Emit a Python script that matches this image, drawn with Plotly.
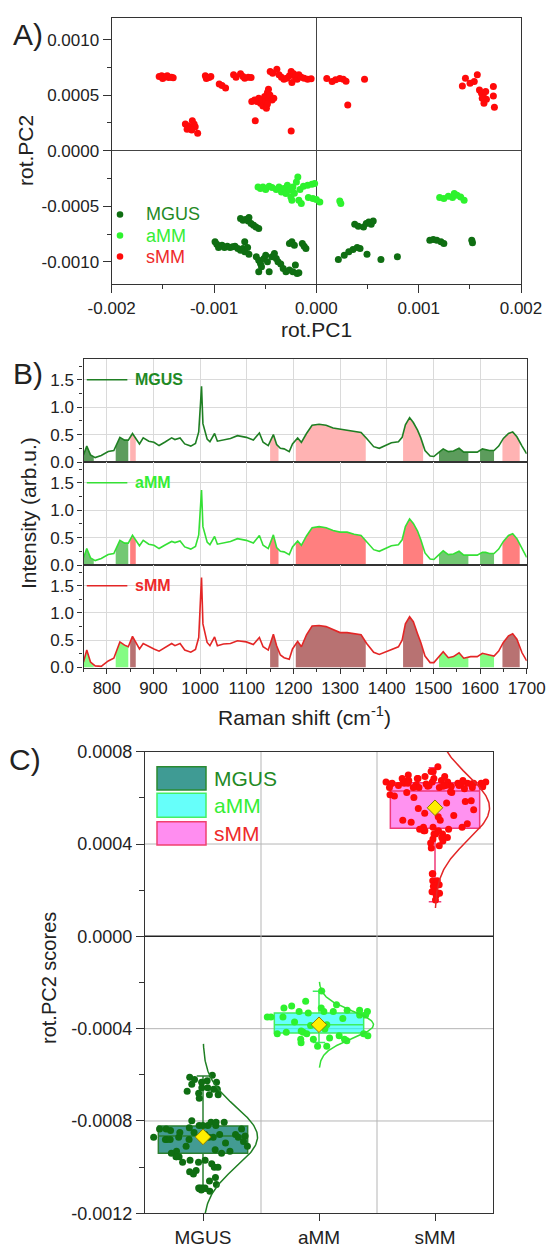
import numpy as np
import plotly.graph_objects as go

W, H = 547, 1250
FONT = "Liberation Sans, Arial, sans-serif"


def px(x):
    return x / W


def py(y):
    return 1 - y / H


# ---------------- Panel A data (rot.PC1, rot.PC2) ----------------
mgus_pc1 = [-7.41e-4, -7.17e-4, -6.93e-4, -6.66e-4, -6.38e-4, -6.14e-4, -5.90e-4, -5.63e-4, -6.59e-4,
            -9.90e-4, -9.73e-4, -9.45e-4, -9.22e-4, -8.98e-4, -8.70e-4, -8.43e-4, -8.19e-4, -7.95e-4,
            -7.68e-4, -7.41e-4, -7.17e-4, -7.00e-4, -6.72e-4, -6.59e-4, -9.56e-4, -7.00e-4,
            -5.87e-4, -5.63e-4, -5.46e-4, -5.36e-4, -5.12e-4, -4.95e-4, -4.78e-4, -4.61e-4, -4.33e-4,
            -4.10e-4, -3.92e-4, -3.75e-4, -5.63e-4,
            -3.48e-4, -3.24e-4, -2.97e-4, -2.63e-4, -2.29e-4, -2.05e-4, -1.88e-4, -1.71e-4,
            -2.63e-4, -2.39e-4, -2.15e-4, -1.37e-4, -1.19e-4, -1.02e-4,
            3.75e-4, 4.10e-4, 4.61e-4, 4.88e-4, 5.12e-4, 5.36e-4, 5.56e-4,
            2.15e-4, 2.73e-4, 3.17e-4, 3.58e-4, 3.99e-4, 4.27e-4, 4.95e-4, 6.31e-4, 7.92e-4,
            1.109e-3, 1.143e-3, 1.177e-3, 1.218e-3, 1.246e-3, 1.519e-3, 1.526e-3]
mgus_pc2 = [-6.11e-4, -6.26e-4, -6.20e-4, -6.32e-4, -6.56e-4, -6.71e-4, -6.86e-4, -7.01e-4, -6.02e-4,
            -8.20e-4, -8.41e-4, -8.59e-4, -8.50e-4, -8.71e-4, -8.59e-4, -8.71e-4, -8.65e-4, -8.59e-4,
            -8.80e-4, -8.95e-4, -8.80e-4, -9.10e-4, -8.71e-4, -9.31e-4, -8.71e-4, -8.20e-4,
            -9.55e-4, -9.85e-4, -1.015e-3, -1.045e-3, -9.70e-4, -9.40e-4, -1.000e-3, -1.090e-3, -9.55e-4,
            -9.25e-4, -9.70e-4, -1.000e-3, -1.090e-3,
            -1.020e-3, -1.060e-3, -1.090e-3, -1.075e-3, -1.090e-3, -1.030e-3, -1.105e-3, -1.099e-3,
            -8.35e-4, -8.20e-4, -8.50e-4, -8.35e-4, -8.59e-4, -8.80e-4,
            -6.62e-4, -6.80e-4, -6.86e-4, -6.56e-4, -6.41e-4, -6.62e-4, -6.32e-4,
            -9.79e-4, -9.40e-4, -9.10e-4, -8.89e-4, -8.71e-4, -8.80e-4, -9.31e-4, -9.79e-4, -9.55e-4,
            -8.05e-4, -7.99e-4, -8.05e-4, -8.20e-4, -8.35e-4, -8.05e-4, -8.29e-4]

amm_pc1 = [-5.70e-4, -5.46e-4, -5.22e-4, -4.95e-4, -4.61e-4, -4.33e-4,
           -3.92e-4, -3.65e-4, -3.41e-4, -3.17e-4, -2.97e-4, -2.83e-4, -2.63e-4, -2.49e-4, -2.29e-4,
           -2.15e-4, -1.95e-4, -1.81e-4, -1.71e-4, -1.60e-4, -1.47e-4, -2.39e-4, -1.26e-4, -0.85e-4,
           -0.44e-4, -0.17e-4, -0.78e-4, -0.34e-4, 0.0, 0.34e-4, 2.29e-4, 2.39e-4,
           1.205e-3, 1.246e-3, 1.290e-3, 1.331e-3, 1.375e-3, 1.410e-3, 1.444e-3, 1.348e-3]
amm_pc2 = [-3.26e-4, -3.41e-4, -3.26e-4, -3.50e-4, -3.20e-4, -3.32e-4,
           -3.50e-4, -3.26e-4, -3.71e-4, -3.41e-4, -3.86e-4, -3.11e-4, -3.56e-4, -4.16e-4, -3.26e-4,
           -3.83e-4, -2.81e-4, -2.37e-4, -4.46e-4, -3.50e-4, -4.76e-4, -4.46e-4, -3.20e-4, -3.11e-4,
           -3.02e-4, -2.96e-4, -4.22e-4, -4.31e-4, -4.40e-4, -4.61e-4, -4.52e-4, -4.76e-4,
           -4.22e-4, -4.31e-4, -4.10e-4, -4.22e-4, -4.01e-4, -4.16e-4, -4.46e-4, -3.86e-4]

smm_pc1 = [-1.536e-3, -1.512e-3, -1.491e-3, -1.468e-3, -1.444e-3, -1.416e-3, -1.399e-3, -1.502e-3, -1.457e-3,
           -1.085e-3, -1.068e-3, -1.048e-3, -1.031e-3, -1.075e-3,
           -9.49e-4, -9.22e-4, -8.87e-4,
           -8.09e-4, -7.85e-4, -7.41e-4, -7.17e-4, -7.00e-4, -6.66e-4, -6.38e-4,
           -4.51e-4, -4.27e-4, -3.86e-4, -3.65e-4, -3.41e-4, -3.17e-4, -2.90e-4, -2.63e-4, -2.46e-4,
           -2.39e-4, -2.22e-4, -2.05e-4, -1.88e-4, -1.71e-4, -1.47e-4, -1.19e-4, -0.85e-4, -0.51e-4,
           1.02e-4, 1.54e-4, 1.88e-4, 2.29e-4, 2.63e-4, 2.90e-4, 4.71e-4, 3.07e-4,
           -6.31e-4, -6.04e-4, -5.80e-4, -5.63e-4, -5.46e-4, -5.29e-4, -5.22e-4, -5.05e-4, -4.95e-4,
           -4.88e-4, -4.78e-4, -4.68e-4, -4.61e-4, -4.54e-4, -4.33e-4, -4.16e-4, -4.78e-4,
           -5.97e-4, -2.46e-4,
           -1.280e-3, -1.256e-3, -1.235e-3, -1.212e-3, -1.195e-3, -1.184e-3, -1.218e-3, -1.160e-3, -1.263e-3,
           1.427e-3, 1.457e-3, 1.502e-3, 1.543e-3, 1.573e-3, 1.594e-3, 1.614e-3, 1.631e-3, 1.638e-3,
           1.655e-3, 1.662e-3, 1.730e-3, 1.730e-3, 1.740e-3, 1.621e-3]
smm_pc2 = [6.69e-4, 6.75e-4, 6.63e-4, 6.69e-4, 6.60e-4, 6.63e-4, 6.57e-4, 6.50e-4, 6.75e-4,
           6.75e-4, 6.63e-4, 6.60e-4, 6.69e-4, 6.50e-4,
           6.02e-4, 5.87e-4, 5.66e-4,
           6.84e-4, 6.63e-4, 6.93e-4, 6.69e-4, 6.54e-4, 6.63e-4, 6.60e-4,
           7.14e-4, 6.99e-4, 7.35e-4, 6.84e-4, 6.63e-4, 6.45e-4, 6.54e-4, 6.75e-4, 7.14e-4,
           6.14e-4, 6.93e-4, 6.63e-4, 6.45e-4, 6.84e-4, 6.63e-4, 6.54e-4, 6.45e-4, 6.48e-4,
           6.50e-4, 6.23e-4, 6.39e-4, 6.50e-4, 6.45e-4, 6.27e-4, 6.45e-4, 4.13e-4,
           4.43e-4, 4.58e-4, 4.43e-4, 4.73e-4, 4.28e-4, 4.58e-4, 4.04e-4, 4.88e-4, 4.43e-4,
           3.83e-4, 5.24e-4, 5.54e-4, 4.64e-4, 5.03e-4, 4.58e-4, 4.73e-4, 4.22e-4,
           2.71e-4, 1.78e-4,
           2.41e-4, 2.23e-4, 2.02e-4, 2.71e-4, 2.41e-4, 2.17e-4, 1.87e-4, 1.57e-4, 1.93e-4,
           5.84e-4, 6.54e-4, 6.08e-4, 6.23e-4, 6.84e-4, 5.48e-4, 5.18e-4, 5.03e-4, 4.28e-4,
           5.33e-4, 4.64e-4, 5.78e-4, 4.94e-4, 3.92e-4, 4.73e-4]

# ---------------- Panel B data (mean Raman spectra) ----------------
wavenumber = [750, 757, 765, 775, 788, 803, 815, 828, 838, 846,
              855, 863, 870, 878, 890, 901, 912, 924, 939, 946,
              957, 967, 980, 990, 997, 1001, 1003, 1006, 1010, 1015,
              1021, 1031, 1037, 1050, 1065, 1080, 1099, 1114, 1127, 1135,
              1146, 1157, 1164, 1172, 1180, 1191, 1198, 1209, 1217, 1228,
              1240, 1255, 1270, 1285, 1300, 1315, 1330, 1345, 1357, 1372,
              1384, 1395, 1410, 1425, 1433, 1440, 1449, 1457, 1466, 1473,
              1482, 1493, 1501, 1511, 1521, 1532, 1543, 1555, 1565, 1580,
              1594, 1605, 1612, 1620, 1630, 1640, 1650, 1661, 1670, 1679,
              1690, 1700]
spec_mgus = [0.13, 0.29, 0.13, 0.08, 0.12, 0.19, 0.21, 0.45, 0.40, 0.40,
             0.52, 0.42, 0.33, 0.44, 0.38, 0.36, 0.30, 0.36, 0.44, 0.41,
             0.44, 0.33, 0.29, 0.34, 0.55, 1.10, 1.38, 0.70, 0.58, 0.42,
             0.37, 0.52, 0.38, 0.40, 0.43, 0.48, 0.45, 0.40, 0.53, 0.36,
             0.30, 0.50, 0.32, 0.25, 0.24, 0.19, 0.33, 0.44, 0.36, 0.52,
             0.67, 0.69, 0.67, 0.62, 0.60, 0.59, 0.56, 0.54, 0.43, 0.28,
             0.25, 0.29, 0.35, 0.37, 0.45, 0.68, 0.81, 0.72, 0.58, 0.44,
             0.21, 0.11, 0.10, 0.17, 0.24, 0.19, 0.20, 0.25, 0.18, 0.18,
             0.18, 0.24, 0.23, 0.21, 0.21, 0.29, 0.43, 0.52, 0.55, 0.46,
             0.29, 0.15]
spec_amm = [0.13, 0.30, 0.13, 0.08, 0.12, 0.19, 0.21, 0.45, 0.40, 0.40,
            0.54, 0.43, 0.35, 0.45, 0.38, 0.36, 0.30, 0.36, 0.43, 0.41,
            0.44, 0.33, 0.29, 0.34, 0.55, 1.10, 1.37, 0.70, 0.58, 0.42,
            0.37, 0.52, 0.38, 0.40, 0.43, 0.48, 0.45, 0.40, 0.54, 0.36,
            0.30, 0.55, 0.32, 0.25, 0.24, 0.19, 0.33, 0.44, 0.36, 0.53,
            0.68, 0.70, 0.68, 0.63, 0.60, 0.60, 0.56, 0.54, 0.43, 0.28,
            0.25, 0.29, 0.35, 0.37, 0.46, 0.70, 0.84, 0.76, 0.62, 0.46,
            0.22, 0.11, 0.10, 0.18, 0.26, 0.19, 0.20, 0.25, 0.18, 0.18,
            0.18, 0.23, 0.23, 0.21, 0.21, 0.29, 0.43, 0.54, 0.57, 0.48,
            0.30, 0.14]
spec_smm = [0.10, 0.32, 0.10, 0.03, 0.02, 0.12, 0.17, 0.47, 0.41, 0.38,
            0.57, 0.44, 0.34, 0.44, 0.38, 0.34, 0.30, 0.36, 0.44, 0.40,
            0.44, 0.32, 0.28, 0.33, 0.55, 1.30, 1.65, 0.80, 0.65, 0.46,
            0.40, 0.56, 0.40, 0.43, 0.44, 0.49, 0.47, 0.42, 0.55, 0.38,
            0.32, 0.61, 0.40, 0.23, 0.18, 0.15, 0.34, 0.48, 0.38, 0.60,
            0.76, 0.77, 0.75, 0.69, 0.64, 0.64, 0.62, 0.60, 0.44, 0.28,
            0.24, 0.28, 0.34, 0.38, 0.50, 0.80, 0.93, 0.84, 0.62, 0.46,
            0.21, 0.09, 0.09, 0.20, 0.29, 0.18, 0.20, 0.27, 0.17, 0.20,
            0.20, 0.26, 0.24, 0.23, 0.21, 0.30, 0.46, 0.58, 0.62, 0.52,
            0.27, 0.12]
band_start = [750, 819, 850, 1150, 1205, 1435, 1512, 1600, 1648]
band_end = [772, 846, 862, 1168, 1355, 1478, 1575, 1630, 1685]
band_kind = ["g", "g", "r", "r", "r", "r", "g", "g", "r"]

# ---------------- Panel C data (box statistics) ----------------
groups = ["MGUS", "aMM", "sMM"]
box_q1 = [-9.40e-4, -4.19e-4, 4.68e-4]
box_median = [-8.65e-4, -3.83e-4, 6.30e-4]
box_q3 = [-8.22e-4, -3.32e-4, 6.66e-4]
box_low = [-1.104e-3, -4.60e-4, 1.50e-4]
box_high = [-6.05e-4, -2.38e-4, 7.30e-4]
box_mean = [-8.69e-4, -3.83e-4, 5.57e-4]
curve_sd = [1.30e-4, 0.60e-4, 1.40e-4]

# ---------------- styles ----------------
col_pts = ["#0f6e12", "#2ef22e", "#ff0a0a"]
col_line = ["#1f7f23", "#35e035", "#e32626"]
col_lab = ["#1f8a25", "#35ee35", "#ee2a2a"]
box_fill = ["rgba(20,130,120,0.80)", "rgba(0,255,250,0.60)", "rgba(255,110,235,0.75)"]
box_line = ["#2a7f30", "#3fee60", "#f03a7a"]
band_col = [{"g": "#5c9c5c", "r": "#ffb3b3"},
            {"g": "#73c873", "r": "#ff7f7f"},
            {"g": "#84fc84", "r": "#b87272"}]

fig = go.Figure()

# ---- Panel A scatter ----
for xs, ys, c in [(mgus_pc1, mgus_pc2, col_pts[0]), (amm_pc1, amm_pc2, col_pts[1]),
                  (smm_pc1, smm_pc2, col_pts[2])]:
    fig.add_trace(go.Scatter(x=xs, y=ys, mode="markers", xaxis="x", yaxis="y",
                             marker=dict(size=7, color=c, line=dict(width=0))))

# ---- Panel B spectra ----
specs = [spec_mgus, spec_amm, spec_smm]
wn = np.array(wavenumber, dtype=float)
for i, sp in enumerate(specs):
    ax = str(i + 2)
    spa = np.array(sp, dtype=float)
    for a, b, k in zip(band_start, band_end, band_kind):
        m = (wn > a) & (wn < b)
        xs = [a] + list(wn[m]) + [b]
        ys = [float(np.interp(a, wn, spa))] + list(spa[m]) + [float(np.interp(b, wn, spa))]
        fig.add_trace(go.Scatter(x=xs, y=ys, mode="lines", fill="tozeroy",
                                 fillcolor=band_col[i][k], line=dict(width=0),
                                 xaxis="x" + ax, yaxis="y" + ax))
    fig.add_trace(go.Scatter(x=wavenumber, y=sp, mode="lines", xaxis="x" + ax, yaxis="y" + ax,
                             line=dict(color=col_line[i], width=1.6)))

# ---- Panel C ----
pc2_groups = [mgus_pc2, amm_pc2, smm_pc2]
for i, ys in enumerate(pc2_groups):
    ya = np.array(ys)
    n = len(ya)
    # horizontal spread of the overlaid points (layout only): wide inside the box,
    # density-scaled outside it
    dens = np.array([np.exp(-0.5 * ((ya - v) / 3.5e-5) ** 2).sum() for v in ya])
    spread = 0.47 * (dens / dens.max()) ** 1.3
    inside = (ya >= box_q1[i]) & (ya <= box_q3[i])
    spread = np.where(inside, np.maximum(spread, 0.40), spread)
    u = np.array([((k * 0.6180339887 + 0.31 * i) % 1.0) * 2 - 1 for k in range(n)])
    fig.add_trace(go.Scatter(x=(i + 1) + u * spread, y=ys, mode="markers",
                             xaxis="x5", yaxis="y5",
                             marker=dict(size=7, color=col_pts[i], line=dict(width=0))))
for i in range(3):
    fig.add_trace(go.Box(x=[i + 1], q1=[box_q1[i]], median=[box_median[i]], q3=[box_q3[i]],
                         lowerfence=[box_low[i]], upperfence=[box_high[i]],
                         width=0.77, whiskerwidth=0.14, fillcolor=box_fill[i],
                         line=dict(color=box_line[i], width=1.5), boxpoints=False,
                         xaxis="x5", yaxis="y5", hoverinfo="skip"))
for i in range(3):
    mu, sd = box_mean[i], curve_sd[i]
    yy = np.linspace(mu - 3.1 * sd, mu + 3.1 * sd, 160)
    xx = (i + 1) + 0.47 * np.exp(-0.5 * ((yy - mu) / sd) ** 2)
    fig.add_trace(go.Scatter(x=xx, y=yy, mode="lines", xaxis="x5", yaxis="y5",
                             line=dict(color=col_line[i], width=1.5)))
fig.add_trace(go.Scatter(x=[1, 2, 3], y=box_mean, mode="markers", xaxis="x5", yaxis="y5",
                         marker=dict(symbol="diamond", size=12, color="#ffee00",
                                     line=dict(color="#8a7a00", width=1))))

# ---------------- axes ----------------
axline = dict(showline=True, linecolor="#333", linewidth=1.3, mirror=True,
              ticks="outside", tickcolor="#333", tickwidth=1.2, automargin=False)
tf = dict(family=FONT, size=17, color="#222")

layout = dict(
    width=W, height=H, margin=dict(l=0, r=0, t=0, b=0, pad=0, autoexpand=False),
    paper_bgcolor="white", plot_bgcolor="white", showlegend=False,
    font=dict(family=FONT, color="#222"),
)
layout["xaxis"] = dict(domain=[px(111.7), px(521)], anchor="y", range=[-0.002, 0.002],
                       tickmode="array", tickvals=[-0.002, -0.001, 0, 0.001, 0.002],
                       ticktext=["-0.002", "-0.001", "0.000", "0.001", "0.002"],
                       ticklen=8, tickfont=tf, showgrid=False,
                       zeroline=True, zerolinecolor="#444", zerolinewidth=1.2,
                       minor=dict(tickmode="linear", tick0=-0.002, dtick=0.0005, ticklen=4,
                                  ticks="outside", tickcolor="#333"), **axline)
layout["yaxis"] = dict(domain=[py(284), py(17.5)], anchor="x", range=[-0.0012, 0.0012],
                       tickmode="array", tickvals=[-0.001, -0.0005, 0, 0.0005, 0.001],
                       ticktext=["-0.0010", "-0.0005", "0.0000", "0.0005", "0.0010"],
                       ticklen=8, tickfont=tf, showgrid=False,
                       zeroline=True, zerolinecolor="#444", zerolinewidth=1.2,
                       minor=dict(tickmode="linear", tick0=-0.001, dtick=0.00025, ticklen=4,
                                  ticks="outside", tickcolor="#333"), **axline)

b_tops = [359, 462, 565]
b_bots = [462, 565, 667.5]
for i in range(3):
    ax = str(i + 2)
    bottom = (i == 2)
    xa = dict(domain=[px(83.5), px(526.7)], anchor="y" + ax, range=[750, 1700],
              tickmode="linear", tick0=800, dtick=100, showgrid=True, gridcolor="#dadada",
              gridwidth=1, zeroline=False, tickfont=tf, **axline)
    if bottom:
        xa.update(ticklen=5, minor=dict(tickmode="linear", tick0=750, dtick=50, ticklen=3,
                                        ticks="outside", tickcolor="#333"))
    else:
        xa.update(showticklabels=False, ticks="")
    layout["xaxis" + ax] = xa
    layout["yaxis" + ax] = dict(domain=[py(b_bots[i]), py(b_tops[i])], anchor="x" + ax,
                                range=[0, 1.88], tickmode="linear", tick0=0, dtick=0.5,
                                tickformat=".1f", ticklen=5, tickfont=tf, showgrid=True,
                                gridcolor="#dadada", gridwidth=1, zeroline=False,
                                minor=dict(tickmode="linear", tick0=0, dtick=0.25, ticklen=3,
                                           ticks="outside", tickcolor="#333"), **axline)

layout["xaxis5"] = dict(domain=[px(145), px(493)], anchor="y5", range=[0.5, 3.5],
                        tickmode="array", tickvals=[1, 2, 3], ticktext=groups, ticklen=7,
                        tickfont=dict(family=FONT, size=19, color="#222"), showgrid=False,
                        zeroline=False, **axline)
layout["yaxis5"] = dict(domain=[py(1213.3), py(751.7)], anchor="x5", range=[-0.0012, 0.0008],
                        tickmode="array",
                        tickvals=[-0.0012, -0.0008, -0.0004, 0, 0.0004, 0.0008],
                        ticktext=["-0.0012", "-0.0008", "-0.0004", "0.0000", "0.0004", "0.0008"],
                        ticklen=8, tickfont=dict(family=FONT, size=18, color="#222"),
                        showgrid=False, zeroline=False,
                        minor=dict(tickmode="linear", tick0=-0.0012, dtick=0.0002, ticklen=5,
                                   ticks="outside", tickcolor="#333"), **axline)

shapes = []
# Panel C grid lines (drawn as shapes so the legend background can cover them)
for yv, c, w in [(0.0004, "#b5b5b5", 1), (-0.0004, "#b5b5b5", 1), (-0.0008, "#b5b5b5", 1),
                 (0.0, "#222", 1.5)]:
    shapes.append(dict(type="line", xref="x5", yref="y5", x0=0.5, x1=3.5, y0=yv, y1=yv,
                       line=dict(color=c, width=w), layer="between"))
for xv in [1.5, 2.5]:
    shapes.append(dict(type="line", xref="x5", yref="y5", x0=xv, x1=xv, y0=-0.0012, y1=0.0008,
                       line=dict(color="#b5b5b5", width=1), layer="between"))
shapes.append(dict(type="rect", xref="paper", yref="paper", x0=px(146), x1=px(285),
                   y0=py(852), y1=py(753), fillcolor="white", line=dict(width=0),
                   layer="between"))

annotations = []
# Panel C legend
c_leg_fill = ["#3f9b94", "#66fffa", "#ff8df0"]
c_leg_line = ["#2a8a30", "#44f066", "#f04070"]
c_rows = [(766.7, 790), (793.3, 817.3), (821.7, 845)]
for i, (t, b) in enumerate(c_rows):
    shapes.append(dict(type="rect", xref="paper", yref="paper", x0=px(157), x1=px(206),
                       y0=py(b), y1=py(t), fillcolor=c_leg_fill[i],
                       line=dict(color=c_leg_line[i], width=1.5), layer="above"))
    annotations.append(dict(x=px(212), y=py((t + b) / 2), xref="paper", yref="paper",
                            text=groups[i], showarrow=False, xanchor="left", yanchor="middle",
                            font=dict(family=FONT, size=21, color=col_lab[i])))

# Panel A legend
a_rows = [214.5, 235.5, 256.5]
for i, yy in enumerate(a_rows):
    shapes.append(dict(type="circle", xref="paper", yref="paper",
                       x0=px(120 - 3.3), x1=px(120 + 3.3), y0=py(yy + 3.3), y1=py(yy - 3.3),
                       fillcolor=col_pts[i], line=dict(width=0), layer="above"))
    annotations.append(dict(x=px(144), y=py(yy), xref="paper", yref="paper",
                            text=groups[i], showarrow=False, xanchor="left", yanchor="middle",
                            font=dict(family=FONT, size=18, color=col_lab[i])))

# Panel B in-plot labels
for i in range(3):
    ax = str(i + 2)
    shapes.append(dict(type="line", xref="x" + ax, yref="y" + ax, x0=757, x1=844, y0=1.5, y1=1.5,
                       line=dict(color=col_line[i], width=1.6), layer="above"))
    annotations.append(dict(x=857, y=1.5, xref="x" + ax, yref="y" + ax, text="<b>%s</b>" % groups[i],
                            showarrow=False, xanchor="left", yanchor="middle",
                            font=dict(family=FONT, size=16, color=col_lab[i])))


# Titles and panel letters
def ann(x, y, text, size, angle=0):
    annotations.append(dict(x=px(x), y=py(y), xref="paper", yref="paper", text=text,
                            showarrow=False, xanchor="center", yanchor="middle", textangle=angle,
                            font=dict(family=FONT, size=size, color="#222")))


ann(28, 34, "A)", 30)
ann(28, 373, "B)", 30)
ann(25, 759, "C)", 30)
ann(316, 329, "rot.PC1", 21)
ann(25, 151, "rot.PC2", 21, -90)
ann(28, 513, "Intensity (arb.u.)", 21, -90)
ann(305, 716, "Raman shift (cm<sup>-1</sup>)", 21)
ann(49, 978, "rot.PC2 scores", 20, -90)

layout["shapes"] = shapes
layout["annotations"] = annotations
fig.update_layout(**layout)
fig.write_html("out.html")
